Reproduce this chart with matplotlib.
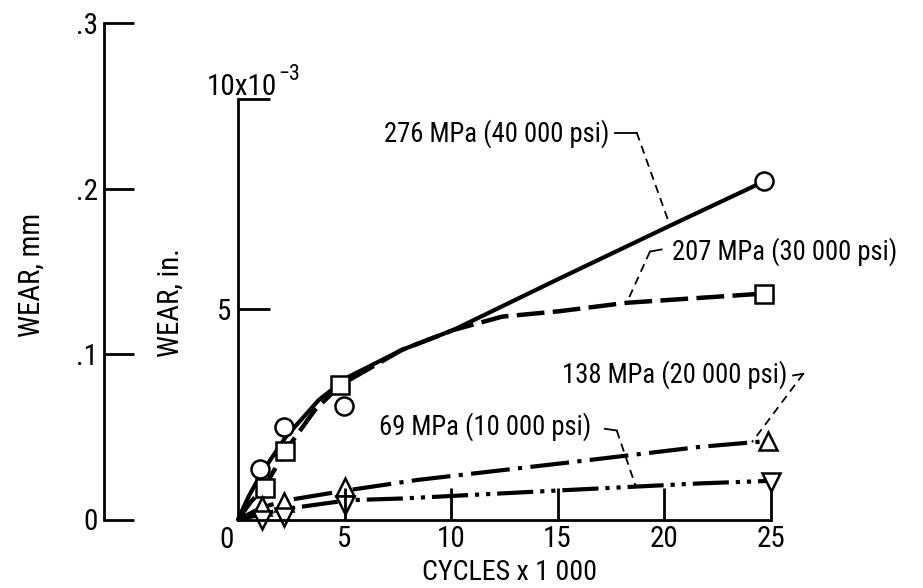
import os
import matplotlib
matplotlib.use('Agg')
import matplotlib.pyplot as plt
from matplotlib import font_manager

# ---------------- data (x in thousands of cycles, y in 1e-3 in) ----------------
# fitted curves
curve_276_x = [0, 0.5, 1.1, 2.25, 3.8, 5.2, 7.7, 10.1, 15.1, 20.3, 24.7]
curve_276_y = [0, 0.55, 1.1, 1.97, 2.85, 3.40, 4.04, 4.51, 5.74, 7.0, 8.05]
curve_207_x = [0, 0.6, 1.25, 2.22, 3.6, 4.8, 7.7, 10.1, 12.4, 15.1, 18.25, 24.7]
curve_207_y = [0, 0.42, 0.78, 1.63, 2.6, 3.2, 4.04, 4.51, 4.83, 4.96, 5.16, 5.38]
curve_138_x = [0, 1.1, 2.2, 5.2, 8.4, 15.4, 21.7, 24.9]
curve_138_y = [0, 0.28, 0.45, 0.70, 0.94, 1.35, 1.73, 1.87]
curve_69_x = [0, 1.1, 2.2, 5.2, 7.7, 15.4, 21.7, 25.0]
curve_69_y = [0, 0.12, 0.25, 0.46, 0.50, 0.70, 0.86, 0.92]

# measured points
pts_276_x = [1.05, 2.17, 4.98, 24.7]
pts_276_y = [1.2, 2.21, 2.70, 8.05]
pts_207_x = [1.25, 2.22, 4.8, 24.7]
pts_207_y = [0.76, 1.63, 3.2, 5.38]
pts_138_x = [1.15, 2.17, 5.0, 24.9]
pts_138_y = [0.33, 0.42, 0.77, 1.88]
pts_69_x = [1.15, 2.17, 5.0, 25.0]
pts_69_y = [0.0, 0.05, 0.35, 0.90]

labels = ['276 MPa (40 000 psi)', '207 MPa (30 000 psi)',
          '138 MPa (20 000 psi)', '69 MPa (10 000 psi)']
label_x = [6.85, 20.36, 15.19, 6.63]
label_y = [9.0, 6.18, 3.27, 2.01]
leader_276_x = [17.70, 18.72, 20.28]
leader_276_y = [9.21, 9.21, 7.0]
leader_207_x = [19.89, 19.34, 18.25]
leader_207_y = [6.43, 6.38, 5.16]
leader_138_x = [26.06, 26.54, 24.13]
leader_138_y = [3.43, 3.47, 1.84]
leader_69_x = [17.22, 17.78, 18.68]
leader_69_y = [2.16, 2.12, 0.78]

x_ticks = [5, 10, 15, 20, 25]
x_ticklabels = ['5', '10', '15', '20', '25']
y_in_ticks = [5, 10]
y_in_ticklabels = ['5', '']
y_mm_ticks = [0, 0.1, 0.2, 0.3]
y_mm_ticklabels = ['0', '.1', '.2', '.3']
MM_TO_MILLI_IN = 39.37

# ---------------- font: prefer a narrow / condensed sans ----------------
BAD = ('bold', 'italic', 'oblique', 'light', 'medium', 'semi', 'extra',
       'black', 'thin', 'heavy')


def pick_font_file():
    cands = []
    for f in font_manager.fontManager.ttflist:
        base = os.path.basename(f.fname)
        low = base.lower()
        if not ('narrow' in low or 'condensed' in low):
            continue
        if any(b in low for b in BAD):
            continue
        if not low.endswith(('.ttf', '.otf')):
            continue
        if 'liberation' in low:
            rank = 0
        elif 'roboto' in low:
            rank = 1
        elif 'noto' in low:
            rank = 2
        elif 'open' in low:
            rank = 3
        elif 'dejavu' in low:
            rank = 4
        else:
            rank = 5
        cands.append((rank, len(base), f.fname))
    if cands:
        cands.sort()
        return cands[0][2]
    return None


ffile = pick_font_file()
if ffile:
    BASEFP = font_manager.FontProperties(fname=ffile)
else:
    BASEFP = font_manager.FontProperties(family=['Liberation Sans',
                                                 'DejaVu Sans'])

W, H = 923, 588
fig = plt.figure(figsize=(W / 100, H / 100), dpi=100)
renderer = fig.canvas.get_renderer()


def fp_for(text, target_px, cap):
    """font properties whose size makes `text` about target_px wide"""
    probe = fig.text(0, 0, text, fontproperties=BASEFP, fontsize=20)
    w = probe.get_window_extent(renderer).width
    probe.remove()
    fp = BASEFP.copy()
    fp.set_size(min(cap, 20 * target_px / w))
    return fp


FP_LAB = fp_for('276 MPa (40 000 psi)', 226, 21.0)
FP_TICK = BASEFP.copy()
FP_TICK.set_size(min(21.0, FP_LAB.get_size() * 1.1))
FP_XT = fp_for('CYCLES x 1 000', 175, 21.0)
FP_YT = fp_for('WEAR, mm', 124, 21.0)
FP_SUP = FP_TICK.copy()
FP_SUP.set_size(FP_TICK.get_size() * 0.75)

# pixel layout of the data frame
X0PX, XSCALE = 238.0, 21.3      # px of x=0, px per unit
Y0PX, YSCALE = 519.5, 42.0      # px of y=0, px per unit
XLIM = (-0.6, 27.0)
YLIM = (-0.6, 12.2)
left_px = X0PX + XSCALE * XLIM[0]
right_px = X0PX + XSCALE * XLIM[1]
bot_px = Y0PX - YSCALE * YLIM[0]
top_px = Y0PX - YSCALE * YLIM[1]

ax = fig.add_axes([left_px / W, 1 - bot_px / H, (right_px - left_px) / W,
                   (bot_px - top_px) / H])
ax.set_xlim(*XLIM)
ax.set_ylim(*YLIM)
ax.patch.set_alpha(0)

for s in ['top', 'right']:
    ax.spines[s].set_visible(False)
ax.spines['left'].set_position(('data', 0))
ax.spines['bottom'].set_position(('data', 0))
ax.spines['left'].set_bounds(0, 10)
ax.spines['bottom'].set_bounds(0, 25)
for s in ['left', 'bottom']:
    ax.spines[s].set_linewidth(2.0)

ax.set_xticks(x_ticks)
ax.set_xticklabels(x_ticklabels, fontproperties=FP_TICK)
ax.set_yticks(y_in_ticks)
ax.set_yticklabels(y_in_ticklabels, fontproperties=FP_TICK)
ax.tick_params(axis='both', direction='in', length=23, width=2.0)
ax.tick_params(axis='x', pad=4)
ax.tick_params(axis='y', pad=5)
ax.set_axisbelow(False)

# curves
plt.rcParams['lines.scale_dashes'] = False
ax.plot(curve_276_x, curve_276_y, color='black', lw=3.0, ls='-',
        solid_capstyle='round', zorder=2)
ax.plot(curve_207_x, curve_207_y, color='black', lw=3.2,
        dashes=(20, 6), zorder=2)
ax.plot(curve_138_x, curve_138_y, color='black', lw=3.0,
        dashes=(28, 6, 3, 6), zorder=2)
ax.plot(curve_69_x, curve_69_y, color='black', lw=3.0,
        dashes=(26, 5, 3, 5, 3, 5), zorder=2)

mk = dict(ls='none', mfc='white', mec='black', mew=1.8, ms=13,
          zorder=2.2, clip_on=False)
ax.plot(pts_276_x, pts_276_y, marker='o', **mk)
ax.plot(pts_207_x, pts_207_y, marker='s', **mk)
ax.plot(pts_138_x, pts_138_y, marker='^', **mk)
ax.plot(pts_69_x, pts_69_y, marker='v', **mk)

# labels with leader lines
leaders = [(leader_276_x, leader_276_y), (leader_207_x, leader_207_y),
           (leader_138_x, leader_138_y), (leader_69_x, leader_69_y)]
for (lx, ly), t, tx, ty in zip(leaders, labels, label_x, label_y):
    ax.plot(lx[:2], ly[:2], color='black', lw=1.3, clip_on=False, zorder=3)
    ax.plot(lx[1:], ly[1:], color='black', lw=1.3, dashes=(6, 4),
            clip_on=False, zorder=3)
    ax.text(tx, ty, t, ha='left', va='baseline', fontproperties=FP_LAB,
            zorder=4)

# origin label and axis multiplier
ax.annotate('0', xy=(0, 0), xytext=(-8, -4.5), textcoords='offset points',
            ha='center', va='top', fontproperties=FP_TICK)
mult = ax.text(-1.46, 10.1, '10x10', ha='left', va='baseline',
               fontproperties=FP_TICK)
ax.annotate('\u22123', xy=(1, 1), xycoords=mult, xytext=(0.5, -1),
            textcoords='offset points', ha='left', va='center',
            fontproperties=FP_SUP)

# ---------------- mm axis ----------------
MMX_PX = 104.0
ax2 = fig.add_axes([MMX_PX / W, 1 - bot_px / H, 0.001, (bot_px - top_px) / H])
ax2.set_ylim(YLIM[0] / MM_TO_MILLI_IN, YLIM[1] / MM_TO_MILLI_IN)
ax2.patch.set_alpha(0)
for s in ['top', 'right', 'bottom']:
    ax2.spines[s].set_visible(False)
ax2.spines['left'].set_bounds(0, 0.3)
ax2.spines['left'].set_linewidth(2.0)
ax2.set_xticks([])
ax2.set_yticks(y_mm_ticks)
ax2.set_yticklabels(y_mm_ticklabels, fontproperties=FP_TICK)
ax2.tick_params(axis='y', direction='in', length=21.5, width=2.0, pad=4.5)

# ---------------- axis titles ----------------
def fx(px):
    return px / W


def fy(py):
    return 1 - py / H


fig.text(fx(32), fy(275), 'WEAR, mm', rotation=90, ha='center', va='center',
         fontproperties=FP_YT)
fig.text(fx(171), fy(303), 'WEAR, in.', rotation=90, ha='center', va='center',
         fontproperties=FP_YT)
fig.text(fx(510), fy(573), 'CYCLES x 1 000', ha='center', va='center',
         fontproperties=FP_XT)

fig.savefig('out.png', dpi=100)
